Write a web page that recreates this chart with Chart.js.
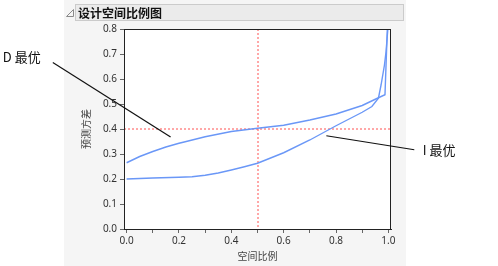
<!DOCTYPE html>
<html>
<head>
<meta charset="utf-8">
<script src="https://cdn.jsdelivr.net/npm/chart.js@4/dist/chart.umd.min.js"></script>
<style>
  html, body { margin: 0; padding: 0; background: #fff; }
  #wrap { width: 498px; height: 266px; }
</style>
</head>
<body>
<div id="wrap"><canvas id="chart" width="498" height="266"></canvas></div>
<script>
// 数据
const chartTitle = "设计空间比例图";
const xTitle = "空间比例";
const yTitle = "预测方差";

const xTicks = [0, 0.1, 0.2, 0.3, 0.4, 0.5, 0.6, 0.7, 0.8, 0.9, 1.0];
const yTicks = [0, 0.1, 0.2, 0.3, 0.4, 0.5, 0.6, 0.7, 0.8];

// D 最优
const dOptX = [0, 0.05, 0.1, 0.15, 0.2, 0.22, 0.3, 0.4, 0.5, 0.6, 0.7, 0.8, 0.9, 0.96, 0.987, 0.996];
const dOptY = [0.265, 0.29, 0.31, 0.328, 0.343, 0.348, 0.369, 0.39, 0.403, 0.415, 0.436, 0.46, 0.494, 0.524, 0.537, 0.8];

// I 最优
const iOptX = [0, 0.1, 0.2, 0.25, 0.3, 0.35, 0.4, 0.45, 0.5, 0.6, 0.7, 0.8, 0.9, 0.937, 0.962, 0.972, 0.985, 0.991, 0.998];
const iOptY = [0.2, 0.204, 0.207, 0.209, 0.215, 0.224, 0.236, 0.249, 0.263, 0.305, 0.356, 0.413, 0.467, 0.49, 0.523, 0.576, 0.656, 0.709, 0.8];

const refX = 0.5;
const refY = 0.4;

// 注释（数据坐标）
const notes = [
  { text: "D 最优", tx: -0.473, ty: 0.688, from: [-0.282, 0.666], to: [0.168, 0.368] },
  { text: "I 最优", tx: 1.131, ty: 0.315, from: [0.763, 0.373], to: [1.099, 0.317] },
];

const X_MIN = -0.01, X_MAX = 1.01;
const CJK = "'Noto Sans CJK SC', 'Noto Sans', sans-serif";
const NUM = "'Noto Sans', 'Liberation Sans', sans-serif";

const toPoints = (xs, ys) => xs.map((x, i) => ({ x, y: ys[i] }));

const panelPlugin = {
  id: "panel",
  beforeDraw(chart) {
    const { ctx, chartArea: a } = chart;
    ctx.save();
    ctx.fillStyle = "#fff";
    ctx.fillRect(0, 0, chart.width, chart.height);
    ctx.fillStyle = "#f5f5f5";
    ctx.fillRect(64, 0, 342, 266);

    // 标题栏
    ctx.fillStyle = "#ebebeb";
    ctx.fillRect(76, 4.5, 327, 16);
    ctx.strokeStyle = "#cbcbcb";
    ctx.lineWidth = 1;
    ctx.strokeRect(75.5, 4.5, 328, 16);

    ctx.beginPath();
    ctx.moveTo(66.5, 16.5);
    ctx.lineTo(73.5, 9.5);
    ctx.lineTo(73.5, 16.5);
    ctx.closePath();
    ctx.strokeStyle = "#8a8a8a";
    ctx.stroke();

    ctx.fillStyle = "#111";
    ctx.font = "bold 12px " + CJK;
    ctx.textBaseline = "middle";
    ctx.textAlign = "left";
    ctx.fillText(chartTitle, 78, 13);

    ctx.fillStyle = "#fff";
    ctx.fillRect(a.left, a.top, a.right - a.left, a.bottom - a.top);
    ctx.restore();
  },
  beforeDatasetsDraw(chart) {
    // 参考线
    const { ctx, chartArea: a, scales } = chart;
    const x = Math.round(scales.x.getPixelForValue(refX));
    const y = Math.round(scales.y.getPixelForValue(refY));
    ctx.save();
    ctx.strokeStyle = "#ff5050";
    ctx.lineWidth = 1;
    ctx.setLineDash([2, 2]);
    ctx.beginPath();
    ctx.moveTo(a.left, y);
    ctx.lineTo(a.right, y);
    ctx.moveTo(x, a.top);
    ctx.lineTo(x, a.bottom);
    ctx.stroke();
    ctx.restore();
  },
  afterDraw(chart) {
    const { ctx, chartArea: a, scales } = chart;
    const px = (v) => scales.x.getPixelForValue(v);
    const py = (v) => scales.y.getPixelForValue(v);
    ctx.save();
    ctx.strokeStyle = "#222";
    ctx.lineWidth = 1;
    ctx.strokeRect(a.left + 0.5, a.top + 0.5, a.right - a.left - 1, a.bottom - a.top);

    ctx.font = "13px " + CJK;
    ctx.textBaseline = "middle";
    ctx.textAlign = "left";
    for (const n of notes) {
      ctx.beginPath();
      ctx.moveTo(px(n.from[0]), py(n.from[1]));
      ctx.lineTo(px(n.to[0]), py(n.to[1]));
      ctx.strokeStyle = "#111";
      ctx.lineWidth = 1.2;
      ctx.stroke();
      ctx.fillStyle = "#111";
      ctx.fillText(n.text, px(n.tx), py(n.ty));
    }
    ctx.restore();
  },
};

const curveStyle = {
  borderColor: "#6a97f7",
  borderWidth: 1.4,
  pointRadius: 0,
  tension: 0,
  fill: false,
};

new Chart(document.getElementById("chart"), {
  type: "line",
  data: {
    datasets: [
      { label: "D 最优", data: toPoints(dOptX, dOptY), ...curveStyle },
      { label: "I 最优", data: toPoints(iOptX, iOptY), ...curveStyle },
    ],
  },
  options: {
    responsive: false,
    animation: false,
    devicePixelRatio: 1,
    layout: { padding: { left: 0, top: 29, right: 107, bottom: 0 } },
    plugins: { legend: { display: false }, tooltip: { enabled: false } },
    scales: {
      x: {
        type: "linear",
        min: X_MIN,
        max: X_MAX,
        afterBuildTicks: (s) => { s.ticks = xTicks.map((v) => ({ value: v })); },
        afterFit: (s) => { s.height = 37; },
        ticks: {
          autoSkip: false,
          maxRotation: 0,
          padding: 2,
          color: "#333",
          font: { family: NUM, size: 10 },
          callback: (v, i) => (i % 2 === 0 ? v.toFixed(1) : ""),
        },
        grid: { display: true, drawOnChartArea: false, drawTicks: true, tickLength: 4, color: "#666" },
        border: { display: true, color: "#222" },
        title: { display: true, text: xTitle, color: "#444", font: { family: CJK, size: 10 }, padding: { top: 0, bottom: 4 } },
      },
      y: {
        type: "linear",
        min: 0,
        max: 0.8,
        afterBuildTicks: (s) => { s.ticks = yTicks.map((v) => ({ value: v })); },
        afterFit: (s) => { s.width = 124; },
        ticks: {
          autoSkip: false,
          padding: 3,
          color: "#333",
          font: { family: NUM, size: 10 },
          callback: (v) => v.toFixed(1),
        },
        grid: { display: true, drawOnChartArea: false, drawTicks: true, tickLength: 4, color: "#666" },
        border: { display: true, color: "#222" },
        title: { display: true, text: yTitle, color: "#444", font: { family: CJK, size: 10 }, padding: { top: 80, bottom: 0 } },
      },
    },
  },
  plugins: [panelPlugin],
});
</script>
</body>
</html>
